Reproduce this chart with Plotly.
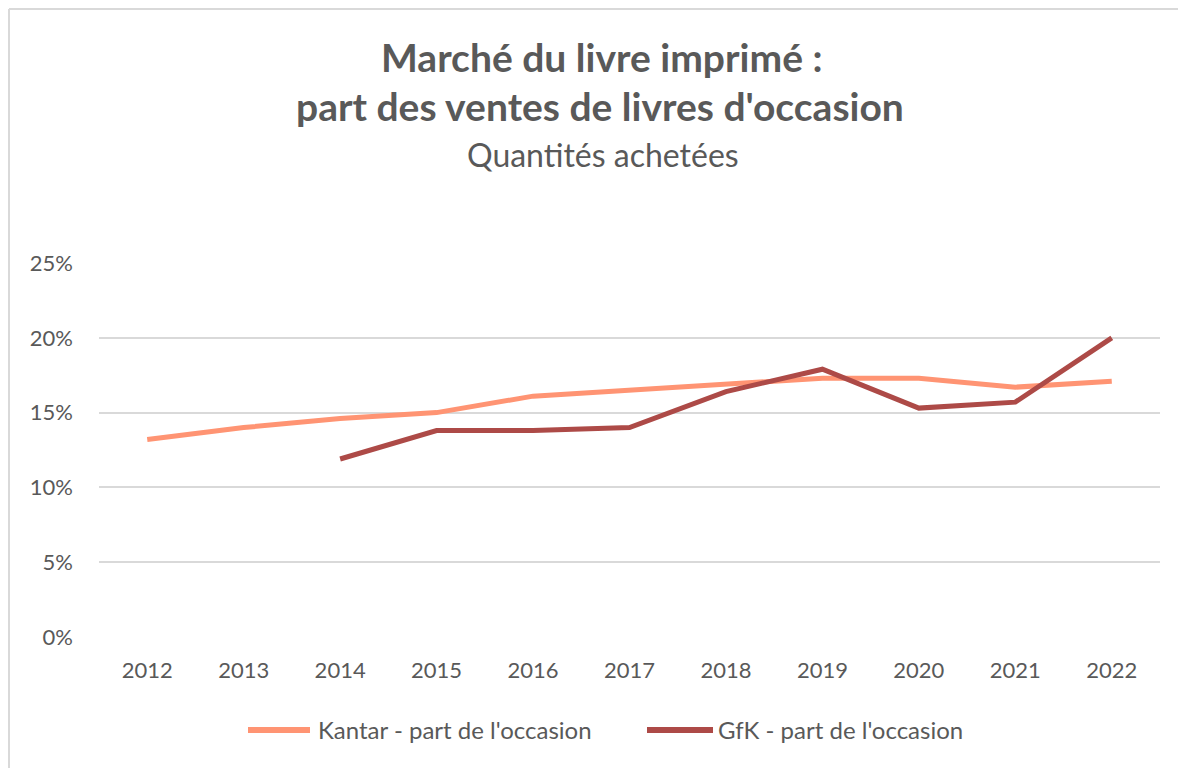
import plotly.graph_objects as go

years = ["2012", "2013", "2014", "2015", "2016", "2017", "2018", "2019", "2020", "2021", "2022"]
kantar = [0.132, 0.140, 0.146, 0.150, 0.161, 0.165, 0.169, 0.173, 0.173, 0.167, 0.171]
gfk = [None, None, 0.119, 0.138, 0.138, 0.140, 0.164, 0.179, 0.153, 0.157, 0.200]
y_ticks = [0, 0.05, 0.10, 0.15, 0.20, 0.25]
y_labels = ["0%", "5%", "10%", "15%", "20%", "25%"]
series_names = ["Kantar - part de l'occasion", "GfK - part de l'occasion"]
series_colors = ["#FF9473", "#AD4A47"]

W, H = 1186, 768
OFF = 8  # page body margin
# target page-pixel positions of the plot area
PL, PR, PT, PB = 99, 1160, 263, 637
L, T = PL - OFF, PT - OFF
R, B = W - (PR - OFF), H - (PB - OFF)
pw, ph = W - L - R, H - T - B
font = "Lato"
grey = "#595959"


def px(page_x):
    return (page_x - OFF - L) / pw


def py(page_y):
    return 1 - (page_y - OFF - T) / ph


fig = go.Figure()
fig.add_trace(go.Scatter(x=years, y=kantar, mode="lines", name=series_names[0],
                         line=dict(color=series_colors[0], width=5), showlegend=False))
fig.add_trace(go.Scatter(x=years, y=gfk, mode="lines", name=series_names[1],
                         line=dict(color=series_colors[1], width=5), showlegend=False))

fig.update_layout(
    width=W, height=H,
    margin=dict(l=L, r=R, t=T, b=B, autoexpand=False),
    paper_bgcolor="white", plot_bgcolor="white",
    font=dict(family=font, color=grey, size=22),
    xaxis=dict(type="category", range=[-0.5, 10.5], showgrid=False, showline=False, ticks="",
               tickfont=dict(size=22, color=grey), ticklabelstandoff=18),
    yaxis=dict(range=[0, 0.25], tickvals=y_ticks, ticktext=y_labels, showgrid=True,
               gridcolor="#D9D9D9", gridwidth=2, zeroline=False, showline=False,
               tickfont=dict(size=22, color=grey), ticklabelstandoff=25),
)

fig.add_annotation(text="<b>Marché du livre imprimé :</b>", xref="paper", yref="paper",
                   x=px(601), y=py(57), xanchor="center", yanchor="middle",
                   showarrow=False, font=dict(size=39, color=grey, family=font))
fig.add_annotation(text="<b>part des ventes de livres d'occasion</b>", xref="paper", yref="paper",
                   x=px(600), y=py(106), xanchor="center", yanchor="middle",
                   showarrow=False, font=dict(size=39, color=grey, family=font))
fig.add_annotation(text="Quantités achetées", xref="paper", yref="paper",
                   x=px(603), y=py(154), xanchor="center", yanchor="middle",
                   showarrow=False, font=dict(size=32, color=grey, family=font))

# legend drawn manually (long line keys as in the reference)
legend_keys = [(248, 310, 316), (647, 713, 716)]
for (x0, x1, tx), name, color in zip(legend_keys, series_names, series_colors):
    fig.add_shape(type="line", xref="paper", yref="paper", x0=px(x0), x1=px(x1),
                  y0=py(730), y1=py(730), line=dict(color=color, width=6))
    fig.add_annotation(text=name, xref="paper", yref="paper", x=px(tx), y=py(729),
                       xanchor="left", yanchor="middle", showarrow=False,
                       font=dict(size=24, color=grey, family=font))

# chart border (left and top edges visible)
fig.add_shape(type="line", xref="paper", yref="paper",
              x0=px(9), x1=px(9), y0=py(H + 20), y1=py(9),
              line=dict(color="#D9D9D9", width=2))
fig.add_shape(type="line", xref="paper", yref="paper",
              x0=px(9), x1=px(W + 20), y0=py(9), y1=py(9),
              line=dict(color="#D9D9D9", width=2))

fig.write_html("out.html")
